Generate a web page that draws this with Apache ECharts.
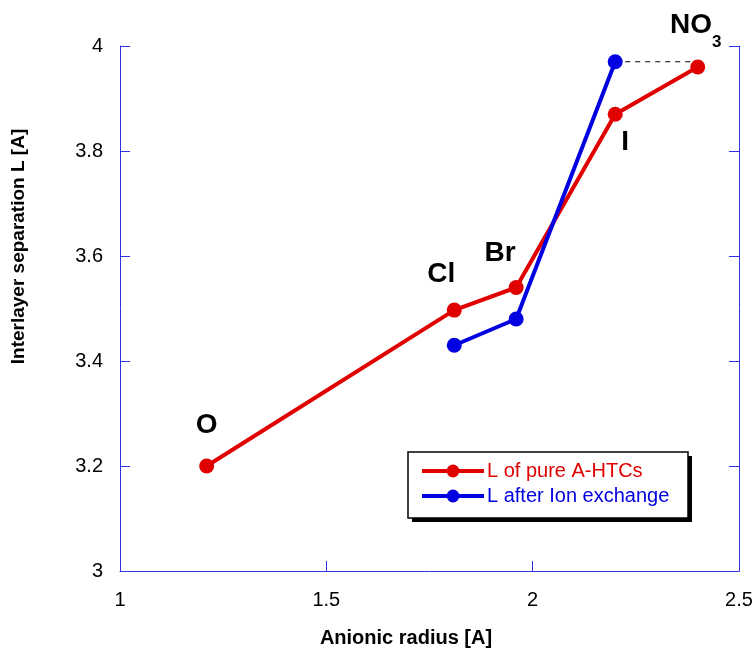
<!DOCTYPE html>
<html>
<head>
<meta charset="utf-8">
<script src="https://cdn.jsdelivr.net/npm/echarts@6/dist/echarts.min.js"></script>
<style>html,body{margin:0;padding:0;background:#fff}#c{width:755px;height:652px}</style>
</head>
<body>
<div id="c"></div>
<script>
var ions = ['O', 'Cl', 'Br', 'I', 'NO3'];
var radiusPure = [1.21, 1.81, 1.96, 2.2, 2.4];
var lPure = [3.2, 3.497, 3.54, 3.87, 3.96];
var radiusExch = [1.81, 1.96, 2.2];
var lExch = [3.43, 3.48, 3.97];
var xTicks = [1, 1.5, 2, 2.5];
var yTicks = [3, 3.2, 3.4, 3.6, 3.8, 4];

var FONT = 'Liberation Sans, Arial, sans-serif';
var labelPlace = {
  'O':   [0, -41],
  'Cl':  [-13, -36],
  'Br':  [-16, -34],
  'I':   [10, 28],
  'NO3': [-2, -42]
};

var axisBlue = '#3030e8';
var red = '#e00000';
var blue = '#0000e0';

var pureData = radiusPure.map(function (x, i) {
  var n = ions[i];
  return {
    value: [x, lPure[i]],
    label: {
      show: true,
      position: 'inside',
      offset: labelPlace[n],
      formatter: n === 'NO3' ? '{a|NO}{b|3}' : n,
      fontFamily: FONT,
      fontWeight: 'bold',
      fontSize: 28,
      color: '#000',
      rich: {
        a: {fontSize: 28, fontWeight: 'bold', color: '#000', fontFamily: FONT},
        b: {fontSize: 17, fontWeight: 'bold', color: '#000', fontFamily: FONT, padding: [34, 0, 0, 0]}
      }
    }
  };
});
var exchData = radiusExch.map(function (x, i) { return [x, lExch[i]]; });
var dashData = [[radiusExch[2], lExch[2]], [radiusPure[4], lExch[2]]];

var chart = echarts.init(document.getElementById('c'));
chart.setOption({
  animation: false,
  backgroundColor: '#fff',
  textStyle: {fontFamily: FONT},
  grid: {left: 120, right: 16, top: 46, bottom: 81, containLabel: false, outerBoundsMode: 'none'},
  graphic: [
    {type: 'rect', z: 50, silent: true, shape: {x: 412, y: 456, width: 280, height: 66}, style: {fill: '#000'}},
    {type: 'rect', z: 51, silent: true, shape: {x: 408, y: 452, width: 280, height: 66}, style: {fill: '#fff', stroke: '#000', lineWidth: 1.5}}
  ],
  legend: {
    left: 420, top: 461, z: 60,
    orient: 'vertical',
    padding: 0,
    itemGap: 5,
    itemWidth: 62,
    itemHeight: 16,
    lineStyle: {width: 4},
    textStyle: {fontSize: 20, fontFamily: FONT, padding: [0, 0, 0, -2]},
    data: [
      {name: 'L of pure A-HTCs', textStyle: {color: red}},
      {name: 'L after Ion exchange', textStyle: {color: blue}}
    ]
  },
  xAxis: {
    type: 'value', min: 1, max: 2.5, interval: 0.5,
    axisLine: {show: true, lineStyle: {color: axisBlue, width: 1}},
    axisTick: {show: true, inside: true, length: 10, lineStyle: {color: axisBlue}},
    splitLine: {show: false},
    axisLabel: {fontSize: 20, color: '#000', margin: 19, formatter: function (v) { return String(v); }},
    name: 'Anionic radius [A]',
    nameLocation: 'middle',
    nameGap: 57,
    nameTextStyle: {fontSize: 20, fontWeight: 'bold', color: '#000', padding: [0, 47, 0, 0]}
  },
  yAxis: [{
    type: 'value', min: 3, max: 4, interval: 0.2,
    axisLine: {show: true, lineStyle: {color: axisBlue, width: 1}},
    axisTick: {show: true, inside: true, length: 10, lineStyle: {color: axisBlue}},
    splitLine: {show: false},
    axisLabel: {fontSize: 20, color: '#000', margin: 17, formatter: function (v) { return String(+v.toFixed(1)); }},
    name: 'Interlayer separation L [A]',
    nameLocation: 'middle',
    nameGap: 92,
    nameTextStyle: {fontSize: 19, fontWeight: 'bold', color: '#000', padding: [0, 0, 0, 124]}
  }, {
    type: 'value', min: 3, max: 4, interval: 0.2, position: 'right',
    axisLine: {show: true, lineStyle: {color: axisBlue, width: 1}},
    axisTick: {show: true, inside: true, length: 10, lineStyle: {color: axisBlue}},
    splitLine: {show: false},
    axisLabel: {show: false}
  }],
  series: [{
    name: 'dash', type: 'line', data: dashData, symbol: 'none', silent: true,
    lineStyle: {color: '#000', width: 1, type: [5, 5]}, z: 1
  }, {
    name: 'L of pure A-HTCs', type: 'line', data: pureData,
    symbol: 'circle', symbolSize: 15,
    itemStyle: {color: red}, lineStyle: {color: red, width: 4}, z: 3
  }, {
    name: 'L after Ion exchange', type: 'line', data: exchData,
    symbol: 'circle', symbolSize: 15,
    itemStyle: {color: blue}, lineStyle: {color: blue, width: 4}, z: 4
  }]
});
</script>
</body>
</html>
